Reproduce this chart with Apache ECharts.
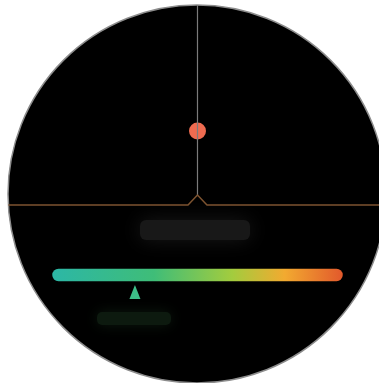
<!DOCTYPE html>
<html>
<head>
<meta charset="utf-8">
<script src="https://cdn.jsdelivr.net/npm/echarts@6/dist/echarts.min.js"></script>
<style>
  html, body { margin: 0; padding: 0; background: #fff; }
  #chart { width: 379px; height: 383px; }
</style>
</head>
<body>
<div id="chart"></div>
<script>
// scale runs 0..100 along the gradient bar, 50 is the centre of the face
const scaleRange = [0, 100];
const scaleStops = [
  [0, '#2cb7a6'],
  [0.35, '#3fbd78'],
  [0.62, '#a3cc3e'],
  [0.8, '#f2aa30'],
  [1, '#e2592c']
];
const markerValue = [27.5];      // green triangle under the bar
const centerValue = 50;
const dotLevel = [37];           // orange dot on the vertical line
const baselinePath = [[-18, 0], [46.6, 0], [50, 5], [53.4, 0], [120, 0]];
const verticalRange = [5, 100];
const barLevel = -35;
const markerLevel = -43.5;

const chart = echarts.init(document.getElementById('chart'));

chart.setOption({
  backgroundColor: '#ffffff',
  animation: false,
  grid: { left: 0, right: 0, top: 5, bottom: 0 },
  xAxis: { type: 'value', min: -21.04, max: 115.29, show: false },
  yAxis: { type: 'value', min: -89, max: 100, show: false },
  graphic: [
    {
      type: 'circle', z: -10,
      shape: { cx: 197, cy: 194, r: 189 },
      style: { fill: '#000', stroke: '#8c8c8c', lineWidth: 1.5 }
    },
    {
      type: 'rect', z: -5,
      shape: { x: 140, y: 220, width: 110, height: 20, r: 6 },
      style: { fill: '#181818', shadowBlur: 20, shadowColor: '#181818' }
    },
    {
      type: 'rect', z: -5,
      shape: { x: 97, y: 312, width: 74, height: 13, r: 5 },
      style: { fill: '#0d1a0f', shadowBlur: 14, shadowColor: '#0d1a0f' }
    }
  ],
  series: [
    {
      type: 'line', clip: false, symbol: 'none', silent: true,
      data: verticalRange.map(v => [centerValue, v]),
      lineStyle: { color: '#7b7b7b', width: 1.2 }
    },
    {
      type: 'line', clip: false, symbol: 'none', silent: true,
      data: baselinePath,
      lineStyle: { color: '#7d5330', width: 1.5 }
    },
    {
      type: 'scatter', clip: false, silent: true,
      symbolSize: 17,
      data: dotLevel.map(v => [centerValue, v]),
      itemStyle: { color: '#ee6b50', opacity: 1 }
    },
    {
      type: 'line', clip: false, symbol: 'none', silent: true,
      data: scaleRange.map(v => [v, barLevel]),
      lineStyle: {
        width: 12.5, cap: 'round',
        color: new echarts.graphic.LinearGradient(0, 0, 1, 0,
          scaleStops.map(s => ({ offset: s[0], color: s[1] })))
      }
    },
    {
      type: 'scatter', clip: false, silent: true,
      symbol: 'triangle', symbolSize: [11, 14],
      data: markerValue.map(v => [v, markerLevel]),
      itemStyle: { color: '#3dbf88', opacity: 1 }
    }
  ]
});

window.addEventListener('resize', function () {
  chart.resize();
});
</script>
</body>
</html>
